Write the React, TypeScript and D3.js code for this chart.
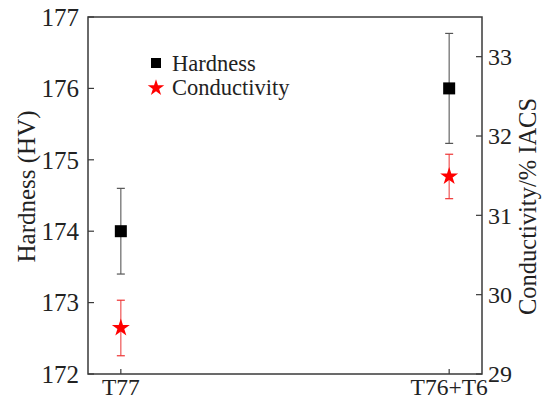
import React from "react";
import * as d3 from "d3";

const categories = ["T77", "T76+T6"];
const hardness = [174.0, 176.0];
const hardnessErr = [0.6, 0.77];
const conductivity = [29.58, 31.49];
const conductivityErr = [0.35, 0.28];
const leftTicks = [172, 173, 174, 175, 176, 177];
const rightTicks = [29, 30, 31, 32, 33];

const W = 542, H = 402;
const m = { left: 88, right: 482, top: 17, bottom: 374 };
const FONT = "'Liberation Serif', 'Times New Roman', serif";

export default function App() {
  const x = d3.scaleLinear().domain([-0.1, 1.1]).range([m.left, m.right]);
  const yL = d3.scaleLinear().domain([172, 177]).range([m.bottom, m.top]);
  const yR = d3.scaleLinear().domain([29, 33.5]).range([m.bottom, m.top]);
  const star = d3.symbol().type(d3.symbolStar).size(100)() as string;
  const starLegend = d3.symbol().type(d3.symbolStar).size(85)() as string;
  const axisColor = "#3a3a3a";
  const cap = 4;

  return (
    <svg width={W} height={H} style={{ position: "absolute", left: 0, top: 0 }}>
      <rect x={0} y={0} width={W} height={H} fill="#fff" />
      <rect x={m.left} y={m.top} width={m.right - m.left} height={m.bottom - m.top} fill="none" stroke={axisColor} strokeWidth={1.5} />
      {leftTicks.map((t) => (
        <g key={"l" + t}>
          <line x1={m.left} x2={m.left + 6} y1={yL(t)} y2={yL(t)} stroke={axisColor} strokeWidth={1.2} />
          <text x={m.left - 9} y={yL(t)} dy="0.35em" textAnchor="end" fontFamily={FONT} fontSize={25} fill="#222">{t}</text>
        </g>
      ))}
      {rightTicks.map((t) => (
        <g key={"r" + t}>
          <line x1={m.right - 6} x2={m.right} y1={yR(t)} y2={yR(t)} stroke={axisColor} strokeWidth={1.2} />
          <text x={m.right + 6} y={yR(t)} dy="0.35em" textAnchor="start" fontFamily={FONT} fontSize={24} fill="#222">{t}</text>
        </g>
      ))}
      {categories.map((c, i) => (
        <g key={c}>
          <line x1={x(i)} x2={x(i)} y1={m.bottom} y2={m.bottom - 5} stroke={axisColor} strokeWidth={1.2} />
          <text x={x(i)} y={m.bottom + 2} dy="0.8em" textAnchor="middle" fontFamily={FONT} fontSize={23.5} fill="#222">{c}</text>
        </g>
      ))}
      <text transform={`translate(35,${(m.top + m.bottom) / 2 - 9}) rotate(-90)`} textAnchor="middle" fontFamily={FONT} fontSize={25} fill="#222">Hardness (HV)</text>
      <text transform={`translate(536,${(m.top + m.bottom) / 2 + 11}) rotate(-90)`} textAnchor="middle" fontFamily={FONT} fontSize={24.5} fill="#222">Conductivity/% IACS</text>
      {hardness.map((v, i) => (
        <g key={"h" + i}>
          <line x1={x(i)} x2={x(i)} y1={yL(v - hardnessErr[i])} y2={yL(v + hardnessErr[i])} stroke="#666" strokeWidth={1.2} />
          <line x1={x(i) - cap} x2={x(i) + cap} y1={yL(v - hardnessErr[i])} y2={yL(v - hardnessErr[i])} stroke="#555" strokeWidth={1.2} />
          <line x1={x(i) - cap} x2={x(i) + cap} y1={yL(v + hardnessErr[i])} y2={yL(v + hardnessErr[i])} stroke="#555" strokeWidth={1.2} />
          <rect x={x(i) - 6} y={yL(v) - 6} width={12} height={12} fill="#000" />
        </g>
      ))}
      {conductivity.map((v, i) => (
        <g key={"c" + i}>
          <line x1={x(i)} x2={x(i)} y1={yR(v - conductivityErr[i])} y2={yR(v + conductivityErr[i])} stroke="#ee5555" strokeWidth={1.2} />
          <line x1={x(i) - cap} x2={x(i) + cap} y1={yR(v - conductivityErr[i])} y2={yR(v - conductivityErr[i])} stroke="#e33" strokeWidth={1.2} />
          <line x1={x(i) - cap} x2={x(i) + cap} y1={yR(v + conductivityErr[i])} y2={yR(v + conductivityErr[i])} stroke="#e33" strokeWidth={1.2} />
          <path d={star} transform={`translate(${x(i)},${yR(v)})`} fill="#ff0000" />
        </g>
      ))}
      <rect x={151} y={58} width={10} height={10} fill="#000" />
      <text x={172} y={71} fontFamily={FONT} fontSize={22.5} fill="#222">Hardness</text>
      <path d={starLegend} transform="translate(156,88)" fill="#ff0000" />
      <text x={172} y={95} fontFamily={FONT} fontSize={22.5} fill="#222">Conductivity</text>
    </svg>
  );
}
